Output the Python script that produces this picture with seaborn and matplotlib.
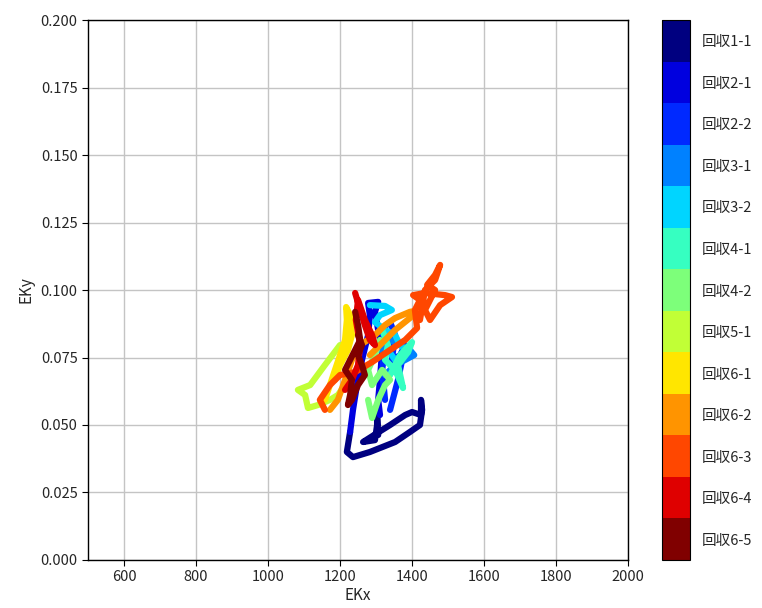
import numpy as np
import pandas as pd
import matplotlib
matplotlib.use("Agg")
import matplotlib.pyplot as plt
import matplotlib.colors as mcolors
import matplotlib.colorbar as mcolorbar
import seaborn as sns

# Trajectory of each recovery run in the (EKx, EKy) plane
labels = ["回収1-1", "回収2-1", "回収2-2", "回収3-1", "回収3-2", "回収4-1", "回収4-2",
          "回収5-1", "回収6-1", "回収6-2", "回収6-3", "回収6-4", "回収6-5"]

ekx_1_1 = [1228, 1219, 1236, 1283, 1353, 1394, 1422, 1428, 1425, 1425, 1400, 1381, 1339, 1303, 1264, 1297, 1303, 1303, 1306]
eky_1_1 = [0.0474, 0.0400, 0.0381, 0.0400, 0.0437, 0.0474, 0.0500, 0.0556, 0.0593, 0.0537, 0.0548, 0.0537, 0.0500, 0.0470, 0.0437, 0.0444, 0.0500, 0.0537, 0.0463]

ekx_2_1 = [1228, 1236, 1247, 1261, 1278, 1283, 1278, 1306, 1297, 1306, 1317, 1311, 1306, 1311]
eky_2_1 = [0.0474, 0.0556, 0.0648, 0.0741, 0.0833, 0.0907, 0.0952, 0.0956, 0.0919, 0.0852, 0.0778, 0.0667, 0.0593, 0.0537]

ekx_2_2 = [1325, 1317, 1328, 1311, 1339, 1353, 1344, 1367, 1381, 1361, 1339]
eky_2_2 = [0.0593, 0.0704, 0.0815, 0.0852, 0.0881, 0.0833, 0.0741, 0.0759, 0.0796, 0.0667, 0.0556]

ekx_3_1 = [1311, 1339, 1367, 1394, 1406, 1381, 1353, 1325]
eky_3_1 = [0.0778, 0.0815, 0.0796, 0.0778, 0.0759, 0.0741, 0.0722, 0.0685]

ekx_3_2 = [1283, 1325, 1344, 1311, 1297, 1325, 1353, 1367, 1389, 1353, 1333]
eky_3_2 = [0.0944, 0.0941, 0.0926, 0.0907, 0.0881, 0.0852, 0.0833, 0.0796, 0.0770, 0.0741, 0.0778]

ekx_4_1 = [1317, 1333, 1325, 1353, 1375, 1361, 1389, 1400, 1367, 1339]
eky_4_1 = [0.0852, 0.0796, 0.0741, 0.0704, 0.0637, 0.0722, 0.0770, 0.0807, 0.0759, 0.0685]

ekx_4_2 = [1278, 1289, 1306, 1325, 1339, 1317, 1289, 1278, 1297, 1311]
eky_4_2 = [0.0593, 0.0526, 0.0593, 0.0648, 0.0667, 0.0704, 0.0648, 0.0704, 0.0759, 0.0815]

ekx_5_1 = [1200, 1158, 1117, 1083, 1103, 1111, 1139, 1172, 1194, 1214]
eky_5_1 = [0.0796, 0.0722, 0.0648, 0.0630, 0.0611, 0.0563, 0.0574, 0.0593, 0.0611, 0.0648]

ekx_6_1 = [1158, 1172, 1186, 1200, 1214, 1219, 1217, 1228, 1233, 1222, 1200, 1186]
eky_6_1 = [0.0593, 0.0648, 0.0704, 0.0759, 0.0815, 0.0889, 0.0937, 0.0907, 0.0833, 0.0778, 0.0722, 0.0667]

ekx_6_2 = [1172, 1194, 1214, 1233, 1256, 1297, 1325, 1353, 1394, 1422, 1394, 1353, 1311, 1283]
eky_6_2 = [0.0556, 0.0593, 0.0667, 0.0741, 0.0796, 0.0833, 0.0870, 0.0896, 0.0919, 0.0926, 0.0896, 0.0852, 0.0796, 0.0759]

ekx_6_3 = [1158, 1144, 1172, 1200, 1242, 1289, 1339, 1381, 1414, 1408, 1422, 1403, 1436, 1492, 1511,
           1478, 1450, 1436, 1464, 1442, 1464, 1478, 1464, 1436, 1422]
eky_6_3 = [0.0556, 0.0593, 0.0648, 0.0685, 0.0696, 0.0733, 0.0778, 0.0815, 0.0859, 0.0926, 0.0963, 0.0981, 0.0989, 0.0981, 0.0974,
           0.0944, 0.0889, 0.0926, 0.1000, 0.1019, 0.1056, 0.1093, 0.1037, 0.1000, 0.0889]

ekx_6_4 = [1242, 1256, 1269, 1283, 1297, 1289, 1269, 1250, 1244, 1256, 1250, 1233, 1214]
eky_6_4 = [0.0989, 0.0926, 0.0870, 0.0815, 0.0796, 0.0833, 0.0889, 0.0963, 0.0889, 0.0796, 0.0722, 0.0667, 0.0630]

ekx_6_5 = [1242, 1250, 1256, 1242, 1228, 1214, 1233, 1228, 1222, 1233, 1250, 1269, 1261, 1250, 1261, 1250]
eky_6_5 = [0.0919, 0.0870, 0.0815, 0.0778, 0.0741, 0.0704, 0.0667, 0.0611, 0.0574, 0.0593, 0.0648, 0.0685, 0.0722, 0.0759, 0.0796, 0.0833]

ekx_all = [ekx_1_1, ekx_2_1, ekx_2_2, ekx_3_1, ekx_3_2, ekx_4_1, ekx_4_2,
           ekx_5_1, ekx_6_1, ekx_6_2, ekx_6_3, ekx_6_4, ekx_6_5]
eky_all = [eky_1_1, eky_2_1, eky_2_2, eky_3_1, eky_3_2, eky_4_1, eky_4_2,
           eky_5_1, eky_6_1, eky_6_2, eky_6_3, eky_6_4, eky_6_5]

x_ticks = [600, 800, 1000, 1200, 1400, 1600, 1800, 2000]
y_ticks = [0.000, 0.025, 0.050, 0.075, 0.100, 0.125, 0.150, 0.175, 0.200]

rows = []
for lab, xs, ys in zip(labels, ekx_all, eky_all):
    for i, (xv, yv) in enumerate(zip(xs, ys)):
        rows.append({"run": lab, "step": i, "EKx": xv, "EKy": yv})
df = pd.DataFrame(rows)

sns.set_theme(style="ticks")
plt.rcParams["font.family"] = ["Noto Sans CJK JP", "DejaVu Sans"]

colors = plt.get_cmap("jet")(np.linspace(0, 1, len(labels)))
palette = dict(zip(labels, colors))

fig = plt.figure(figsize=(7.62, 6.08), dpi=100)
ax = fig.add_axes([0.1155, 0.079, 0.7087, 0.888])

sns.lineplot(data=df, x="EKx", y="EKy", hue="run", hue_order=labels, palette=palette,
             sort=False, estimator=None, units="run", legend=False, lw=4.5, ax=ax,
             solid_capstyle="round", solid_joinstyle="round")

ax.set_xlim(500, 2000)
ax.set_ylim(0, 0.2)
ax.set_xticks(x_ticks)
ax.set_yticks(y_ticks)
ax.set_yticklabels([f"{v:.3f}" for v in y_ticks])
ax.tick_params(labelsize=10.5, length=4, width=0.8, color="black")
ax.grid(True, color="#c4c4c4", lw=1.0)
ax.set_axisbelow(True)
for sp in ax.spines.values():
    sp.set_color("black")
    sp.set_linewidth(1.0)
ax.set_xlabel("EKx", fontsize=11, labelpad=2)
ax.set_ylabel("EKy", fontsize=11, labelpad=4)

# Discrete colour key, first run at the top
cax = fig.add_axes([0.869, 0.079, 0.037, 0.888])
cmap = mcolors.ListedColormap(colors)
norm = mcolors.BoundaryNorm(np.arange(len(labels) + 1), cmap.N)
cb = mcolorbar.ColorbarBase(cax, cmap=cmap, norm=norm, orientation="vertical")
cb.set_ticks(np.arange(len(labels)) + 0.5)
cb.set_ticklabels(labels)
cax.minorticks_off()
cax.invert_yaxis()
cax.tick_params(which="both", labelsize=10.5, length=0, pad=8)
cb.outline.set_edgecolor("black")
cb.outline.set_linewidth(0.8)

fig.savefig("out.png", dpi=100)
